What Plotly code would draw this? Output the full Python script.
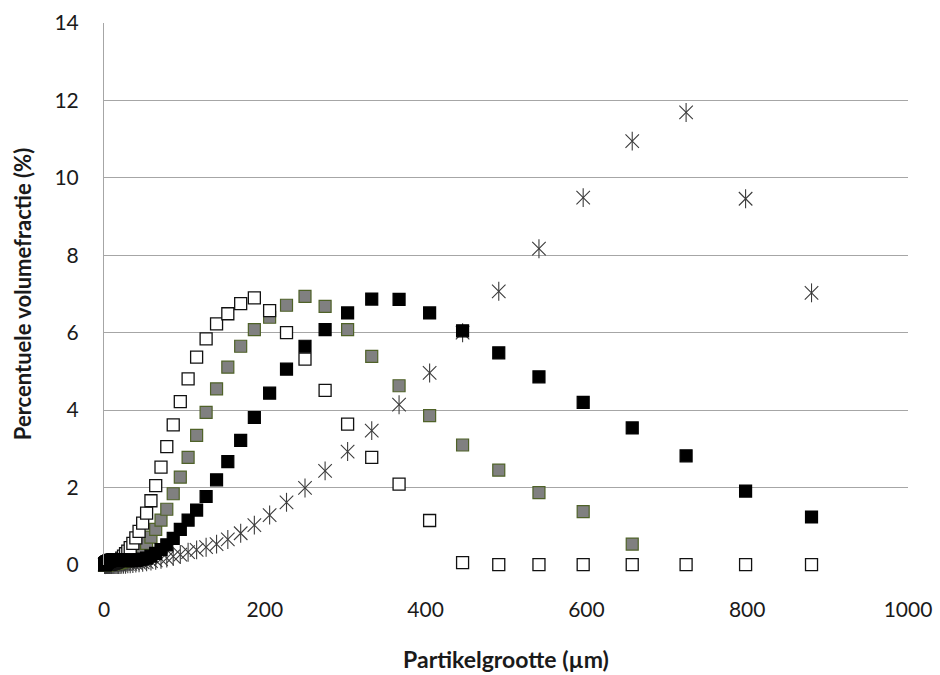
import plotly.graph_objects as go

# Particle size classes (µm), shared by all four measurements
size_um = [
    1.0, 1.1, 1.2, 1.3, 1.5, 1.6, 1.8, 1.9, 2.1,
    2.4, 2.6, 2.9, 3.2, 3.5, 3.8, 4.2, 4.7, 5.1, 5.7, 6.2, 6.9, 7.6, 8.4, 9.2,
    10.1, 11.2, 12.3, 13.6, 15.0, 16.5, 18.2, 20.0, 22.1, 24.3, 26.8, 29.6,
    32.6, 35.9, 39.6, 43.6, 48.1,
    53.0, 58.4, 64.3, 70.9, 78.1, 86.1, 94.9, 104.6, 115.2,
    127, 140, 154, 170, 187, 206, 227, 250, 275, 303, 333, 367, 405, 446,
    491, 541, 596, 657, 724, 798, 880,
]

# Volume fraction (%) per size class
open_sq = [
    0.01, 0.01, 0.01, 0.01, 0.01, 0.02, 0.02, 0.02, 0.02,
    0.02, 0.02, 0.02, 0.02, 0.02, 0.02, 0.02, 0.02, 0.02, 0.02, 0.03, 0.03, 0.03, 0.03, 0.03,
    0.04, 0.04, 0.05, 0.06, 0.07, 0.09, 0.11, 0.14, 0.18, 0.23, 0.29, 0.36,
    0.45, 0.56, 0.70, 0.87, 1.08,
    1.34, 1.66, 2.05, 2.53, 3.06, 3.62, 4.22, 4.81, 5.37,
    5.84, 6.23, 6.49, 6.75, 6.90, 6.57, 6.00, 5.32, 4.51, 3.64, 2.78, 2.09, 1.15, 0.06,
    0.01, 0.01, 0.01, 0.01, 0.01, 0.01, 0.01,
]

grey_sq = [
    0.01, 0.01, 0.01, 0.01, 0.01, 0.01, 0.01, 0.01, 0.01,
    0.01, 0.01, 0.01, 0.01, 0.01, 0.01, 0.01, 0.01, 0.02, 0.02, 0.02, 0.02, 0.02, 0.02, 0.02,
    0.03, 0.03, 0.04, 0.04, 0.05, 0.05, 0.06, 0.07, 0.08, 0.09, 0.11, 0.13,
    0.16, 0.20, 0.26, 0.33, 0.43,
    0.56, 0.72, 0.92, 1.16, 1.44, 1.84, 2.27, 2.78, 3.35,
    3.94, 4.55, 5.11, 5.65, 6.08, 6.40, 6.71, 6.94, 6.68, 6.08, 5.39, 4.63, 3.86, 3.10,
    2.45, 1.87, 1.38, 0.54, None, None, None,
]

black_sq = [
    0.02, 0.02, 0.02, 0.03, 0.03, 0.03, 0.04, 0.04, 0.05,
    0.05, 0.06, 0.06, 0.07, 0.07, 0.08, 0.08, 0.09, 0.09, 0.10, 0.10, 0.11, 0.11, 0.12, 0.12,
    0.13, 0.13, 0.14, 0.14, 0.14, 0.14, 0.14, 0.13, 0.13, 0.12, 0.12, 0.11,
    0.11, 0.11, 0.12, 0.13, 0.15,
    0.18, 0.23, 0.30, 0.40, 0.52, 0.69, 0.92, 1.16, 1.42,
    1.77, 2.20, 2.67, 3.22, 3.81, 4.44, 5.06, 5.65, 6.08, 6.51, 6.87, 6.86, 6.51, 6.05,
    5.48, 4.86, 4.20, 3.54, 2.82, 1.91, 1.24,
]

star = [
    0.01, 0.01, 0.01, 0.01, 0.01, 0.01, 0.01, 0.01, 0.01,
    0.01, 0.01, 0.01, 0.01, 0.01, 0.01, 0.01, 0.01, 0.01, 0.01, 0.01, 0.01, 0.01, 0.01, 0.01,
    0.01, 0.01, 0.01, 0.01, 0.01, 0.01, 0.01, 0.01, 0.02, 0.02, 0.02, 0.03,
    0.03, 0.04, 0.05, 0.06, 0.07,
    0.08, 0.10, 0.12, 0.15, 0.18, 0.22, 0.27, 0.33, 0.39,
    0.46, 0.54, 0.66, 0.82, 1.03, 1.29, 1.62, 1.99, 2.43, 2.93, 3.47, 4.14, 4.96, 6.00,
    7.07, 8.17, 9.49, 10.95, 11.69, 9.46, 7.03,
]

x_ticks = [0, 200, 400, 600, 800, 1000]
y_ticks = [0, 2, 4, 6, 8, 10, 12, 14]

FONT = "Lato"
TEXT = "#1a1a1a"
STAR_COLOR = "#3c3c3c"

fig = go.Figure()

# six-armed star marker: an X with a vertical bar through it
for sym in ("x-thin-open", "line-ns-open"):
    fig.add_trace(go.Scatter(
        x=size_um, y=star, mode="markers", name="monster 4", cliponaxis=False,
        marker=dict(symbol=sym, size=13.5, color=STAR_COLOR,
                    line=dict(color=STAR_COLOR, width=1.1)),
    ))

fig.add_trace(go.Scatter(
    x=size_um, y=grey_sq, mode="markers", name="monster 2", cliponaxis=False,
    marker=dict(symbol="square", size=12, color="#808080",
                line=dict(color="#4f6228", width=1.2)),
))
fig.add_trace(go.Scatter(
    x=size_um, y=open_sq, mode="markers", name="monster 1", cliponaxis=False,
    marker=dict(symbol="square", size=12, color="#ffffff",
                line=dict(color="#111111", width=1.3)),
))
fig.add_trace(go.Scatter(
    x=size_um, y=black_sq, mode="markers", name="monster 3", cliponaxis=False,
    marker=dict(symbol="square", size=12, color="#000000",
                line=dict(color="#000000", width=1.2)),
))

fig.update_layout(
    width=940, height=675,
    margin=dict(l=104, r=32, t=23, b=110),
    paper_bgcolor="white", plot_bgcolor="white",
    showlegend=False,
    font=dict(family=FONT, color=TEXT),
    xaxis=dict(
        range=[0, 1000], tickvals=x_ticks, ticktext=[str(v) for v in x_ticks],
        showgrid=False, zeroline=False, showline=False, ticks="",
        automargin=False,
        tickfont=dict(family=FONT, size=21, color=TEXT),
        ticklabelstandoff=30,
        title=dict(text="<b>Partikelgrootte (µm)</b>",
                   font=dict(family=FONT, size=23, color=TEXT),
                   standoff=31),
    ),
    yaxis=dict(
        range=[0, 14], tickvals=y_ticks, ticktext=[str(v) for v in y_ticks],
        showgrid=True, gridcolor="#a6a6a6", gridwidth=1,
        zeroline=False, showline=True, linecolor="#a6a6a6", linewidth=1,
        ticks="", automargin=False,
        tickfont=dict(family=FONT, size=21, color=TEXT),
        ticklabelstandoff=20,
        title=dict(text="<b>Percentuele volumefractie (%)</b>",
                   font=dict(family=FONT, size=22, color=TEXT),
                   standoff=16),
    ),
)

fig.write_html("out.html")
